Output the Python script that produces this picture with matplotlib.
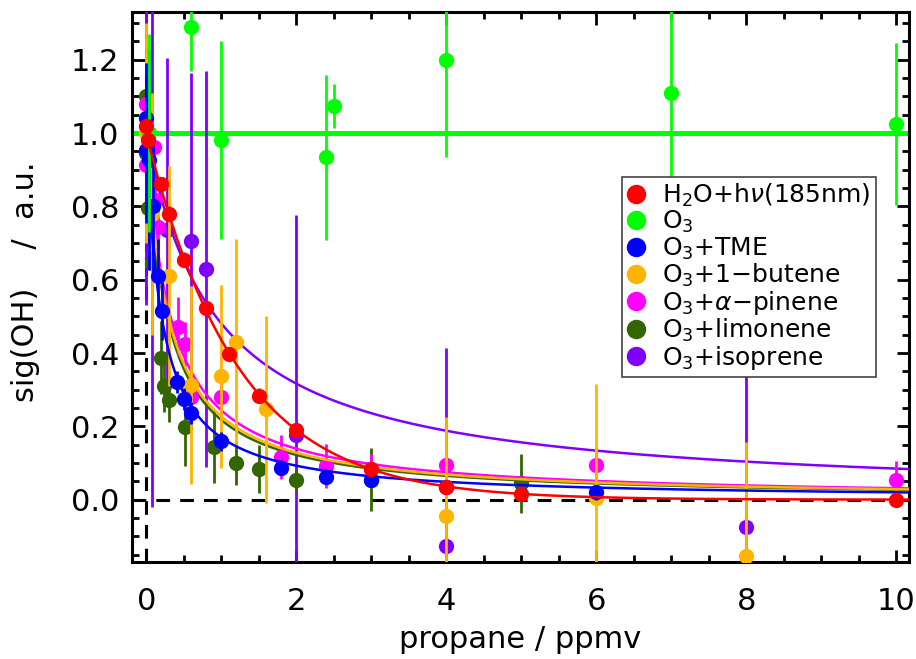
import numpy as np
import matplotlib
matplotlib.use("Agg")
import matplotlib.pyplot as plt
from matplotlib.ticker import MultipleLocator

# ---------------- data ----------------
labels = ["H$_2$O+h$\\nu$(185nm)", "O$_3$", "O$_3$+TME", "O$_3$+1\u2212butene",
          "O$_3$+$\\alpha$\u2212pinene", "O$_3$+limonene", "O$_3$+isoprene"]
colors = ["#ff0000", "#00ff00", "#0000ff", "#ffb400", "#ff00ff", "#336600", "#8000ff"]

red_x = [0.0, 0.02, 0.2, 0.3, 0.5, 0.8, 1.1, 1.5, 2.0, 3.0, 4.0, 5.0, 10.0]
red_y = [1.02, 0.98, 0.86, 0.78, 0.655, 0.523, 0.397, 0.284, 0.19, 0.083, 0.035, 0.016, 0.0]
red_e = [0.02, 0.02, 0.02, 0.02, 0.02, 0.02, 0.02, 0.02, 0.02, 0.02, 0.02, 0.02, 0.02]

green_x = [0.03, 0.6, 1.0, 2.4, 2.5, 4.0, 7.0, 10.0]
green_y = [1.0, 1.29, 0.98, 0.934, 1.075, 1.2, 1.108, 1.025]
green_e = [0.27, 0.12, 0.27, 0.225, 0.06, 0.265, 0.32, 0.22]

blue_x = [0.0, 0.0, 0.04, 0.09, 0.15, 0.21, 0.41, 0.5, 0.6, 1.0, 1.8, 2.4, 3.0, 4.0, 6.0]
blue_y = [1.04, 0.955, 0.926, 0.80, 0.61, 0.515, 0.32, 0.275, 0.237, 0.159, 0.087, 0.063, 0.055, 0.035, 0.02]
blue_e = [0.15, 0.2, 0.3, 0.2, 0.1, 0.08, 0.03, 0.03, 0.03, 0.025, 0.02, 0.02, 0.02, 0.02, 0.02]

orange_x = [0.0, 0.08, 0.3, 0.6, 1.0, 1.2, 1.6, 4.0, 6.0, 8.0]
orange_y = [1.0, 0.78, 0.61, 0.313, 0.336, 0.43, 0.247, -0.045, 0.005, -0.153]
orange_e = [0.3, 0.33, 0.3, 0.27, 0.25, 0.28, 0.255, 0.27, 0.31, 0.31]

magenta_x = [0.0, 0.0, 0.1, 0.12, 0.16, 0.42, 0.51, 0.6, 1.0, 1.8, 2.4, 3.0, 4.0, 6.0, 10.0]
magenta_y = [1.08, 0.913, 0.963, 0.817, 0.745, 0.472, 0.425, 0.279, 0.279, 0.117, 0.093, 0.085, 0.095, 0.095, 0.055]
magenta_e = [0.05, 0.05, 0.05, 0.06, 0.06, 0.08, 0.06, 0.05, 0.05, 0.06, 0.06, 0.04, 0.06, 0.05, 0.05]

limonene_x = [0.0, 0.0, 0.02, 0.07, 0.19, 0.23, 0.3, 0.51, 0.9, 1.2, 1.5, 2.0, 3.0, 5.0]
limonene_y = [1.10, 0.945, 0.795, 0.645, 0.387, 0.31, 0.272, 0.197, 0.145, 0.1, 0.084, 0.053, 0.055, 0.045]
limonene_e = [0.05, 0.05, 0.1, 0.1, 0.1, 0.07, 0.06, 0.105, 0.1, 0.06, 0.065, 0.03, 0.085, 0.08]

purple_x = [0.0, 0.08, 0.27, 0.6, 0.8, 2.0, 4.0, 8.0]
purple_y = [0.95, 0.66, 0.735, 0.705, 0.63, 0.177, -0.125, -0.075]
purple_e = [0.42, 0.68, 0.47, 0.46, 0.54, 0.6, 0.54, 0.44]

# fit parameters: red exponential decay rate, others hyperbolic 1/(1+k x)
red_k = 0.83
hyp_k = {"blue": 4.9, "orange": 3.4, "magenta": 3.1, "limonene": 3.6, "purple": 1.08}

xticks = [0, 2, 4, 6, 8, 10]

# ---------------- figure ----------------
plt.rcParams['font.family'] = ['DejaVu Sans']
plt.rcParams['mathtext.fontset'] = 'dejavusans'
fig = plt.figure(figsize=(9.16, 6.59), dpi=100)
ax = fig.add_axes([132 / 916, 1 - 562 / 659, 777 / 916, 550 / 659])

ax.set_xlim(-0.19, 10.17)
ax.set_ylim(-0.17, 1.33)

# reference dashed lines
ax.axhline(0, color='black', lw=2.2, ls=(0, (4.5, 3.3)), zorder=1)
ax.axvline(0, color='black', lw=2.2, ls=(0, (4.5, 3.3)), zorder=1)
# O3 reference line
ax.axhline(1.0, color=colors[1], lw=3.6, zorder=2)

MS = 11
xf = np.linspace(0, 10.2, 600)
series = [
    (purple_x, purple_y, purple_e, colors[6], "purple"),
    (limonene_x, limonene_y, limonene_e, colors[5], "limonene"),
    (magenta_x, magenta_y, magenta_e, colors[4], "magenta"),
    (orange_x, orange_y, orange_e, colors[3], "orange"),
    (blue_x, blue_y, blue_e, colors[2], "blue"),
]
z = 3
for xs, ys, es, c, key in series:
    ax.plot(xf, 1.0 / (1.0 + hyp_k[key] * xf), color=c, lw=1.8, zorder=z)
    ax.errorbar(xs, ys, yerr=es, fmt='o', color=c, ms=MS, mew=0, elinewidth=2,
                capsize=0, zorder=z + 1)
    z += 2
ax.errorbar(green_x, green_y, yerr=green_e, fmt='o', color=colors[1], ms=MS, mew=0,
            elinewidth=2, capsize=0, zorder=z + 1)
z += 2
ax.plot(xf, np.exp(-red_k * xf), color=colors[0], lw=1.8, zorder=z)
ax.errorbar(red_x, red_y, yerr=red_e, fmt='o', color=colors[0], ms=MS, mew=0,
            elinewidth=2, capsize=0, zorder=z + 1)

# legend with proxy handles
handles = [plt.Line2D([], [], ls='none', marker='o', ms=14, mew=0, color=c) for c in colors]
leg = ax.legend(handles, labels, loc='upper left', bbox_to_anchor=(0.631, 0.70),
                borderaxespad=0, fontsize=18, frameon=True, fancybox=False,
                edgecolor='#444444', framealpha=1, handlelength=0.7,
                handletextpad=0.7, labelspacing=0.0, borderpad=0.2)
leg.get_frame().set_linewidth(1.2)
leg.set_zorder(30)

# axes style
for s in ax.spines.values():
    s.set_linewidth(2.2)
ax.xaxis.set_major_locator(MultipleLocator(2))
ax.xaxis.set_minor_locator(MultipleLocator(0.5))
ax.yaxis.set_major_locator(MultipleLocator(0.2))
ax.yaxis.set_minor_locator(MultipleLocator(0.05))
ax.set_xticks(xticks)
ax.set_xticklabels([str(t) for t in xticks])
ax.tick_params(which='both', direction='in', top=True, right=True, width=2)
ax.tick_params(which='major', length=9, labelsize=22)
ax.tick_params(which='minor', length=5)
ax.tick_params(axis='x', which='major', pad=18)
ax.tick_params(axis='y', which='major', pad=9)

ax.set_xlabel("propane / ppmv", fontsize=22)
ax.set_ylabel("sig(OH)    /  a.u.", fontsize=22)
ax.xaxis.set_label_coords(0.5, -0.115)
ax.yaxis.set_label_coords(-0.118, 0.51)

fig.savefig("out.png", dpi=100)
